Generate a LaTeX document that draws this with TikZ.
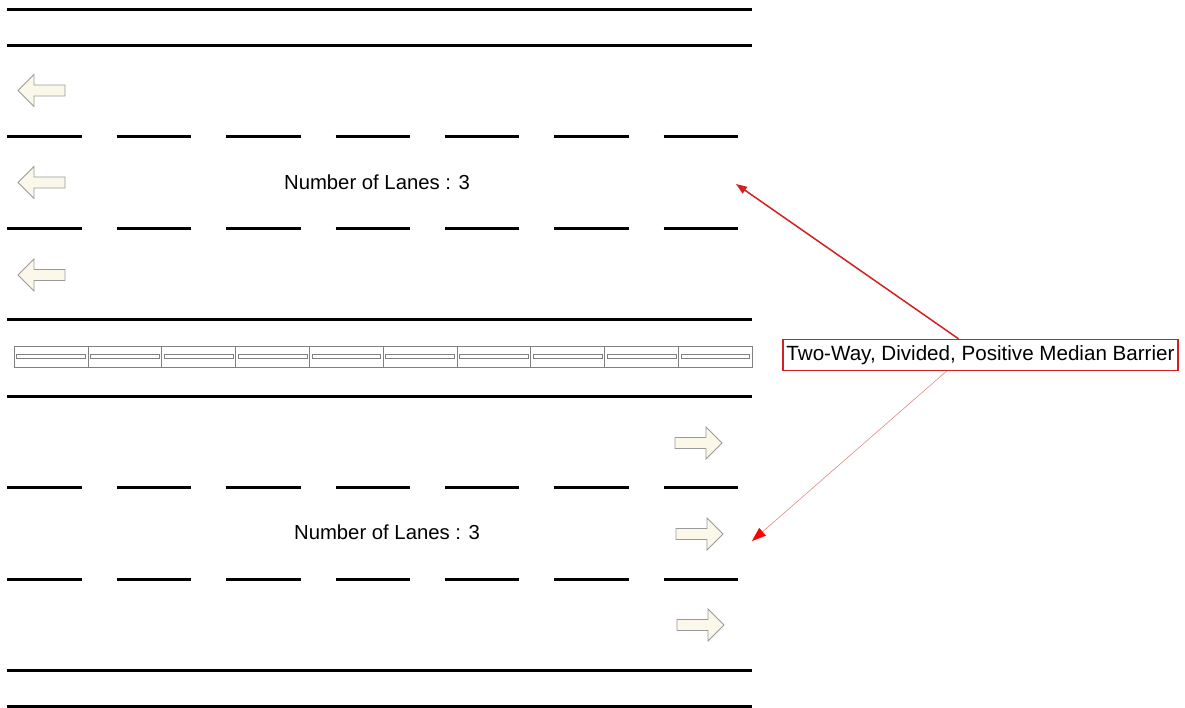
\documentclass[tikz,border=0pt]{standalone}
\usepackage{fontspec}
\setmainfont{Liberation Sans}
\usetikzlibrary{arrows.meta}
\definecolor{arrowfill}{HTML}{FBF8EA}
\definecolor{arrowedge}{HTML}{9A9A9A}
\definecolor{leaderred}{HTML}{D42020}
\definecolor{leaderpink}{HTML}{E08A8A}
\begin{document}
\begin{tikzpicture}[x=1pt,y=-1pt,
  edgeline/.style={line width=3pt, black},
  laneline/.style={line width=3pt, black, dash pattern=on 74.5pt off 34.9pt},
  barrierbox/.style={draw=gray, line width=0.9pt},
  blockarrow/.style={draw=arrowedge, fill=arrowfill, line width=0.8pt, line join=miter},
  lanetext/.style={font=\fontsize{20.3}{24}\selectfont, inner sep=0pt},
  medianlabel/.style={draw=leaderred, line width=1.4pt, font=\fontsize{20.6}{24}\selectfont, inner xsep=3.5pt, minimum height=31pt},
  leaderA/.style={draw=leaderred, line width=1.5pt, -{Triangle[length=11pt,width=8pt]}, fill=leaderred},
  leaderB/.style={draw=leaderpink, line width=0.6pt, -{Triangle[length=14pt,width=10pt,fill=red,color=red]}},
  lanearrowL/.pic={\path[blockarrow] (0,0) -- (16,-16) -- (16,-5.5) -- (47,-5.5) -- (47,5.5) -- (16,5.5) -- (16,16) -- cycle;},
  lanearrowR/.pic={\path[blockarrow] (0,0) -- (-16,-16) -- (-16,-5.5) -- (-47,-5.5) -- (-47,5.5) -- (-16,5.5) -- (-16,16) -- cycle;}
]
\useasboundingbox (0,0) rectangle (1185,708);
\fill[white] (0,0) rectangle (1185,708);

% road edges
\foreach \yy in {10,46,320,396,670,706}
  \draw[edgeline] (7.3,\yy) -- (752,\yy);
% lane lines
\foreach \yy in {137,229,487,579}
  \draw[laneline] (7.3,\yy) -- (738.2,\yy);

% median barrier
\foreach \k in {0,...,9} {
  \draw[barrierbox] (14.3+73.8*\k,346.5) rectangle ++(73.8,20.5);
  \draw[barrierbox] (14.3+73.8*\k+2.5,354.3) rectangle ++(68.8,4);
}

% direction arrows
\pic at (18,90.5) {lanearrowL};
\pic at (18,182.5) {lanearrowL};
\pic at (18,275) {lanearrowL};
\pic at (722,443) {lanearrowR};
\pic at (723,534) {lanearrowR};
\pic at (724,625) {lanearrowR};

% texts
\node[lanetext] (lanesA) at (377,182) {Number of Lanes : 3};
\node[lanetext] (lanesB) at (387,532) {Number of Lanes : 3};
\node[medianlabel] (median) at (980.5,355) {Two-Way, Divided, Positive Median Barrier};

% leaders
\coordinate (tipA) at (736,184);
\coordinate (tipB) at (752,541);
\draw[leaderA] ([xshift=-22pt]median.north) -- (tipA);
\draw[leaderB] ([xshift=-34pt]median.south) -- (tipB);
\end{tikzpicture}
\end{document}
